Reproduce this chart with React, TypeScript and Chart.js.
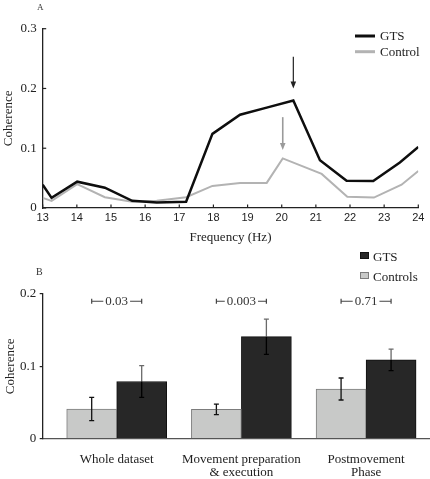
import React, { useEffect, useRef } from "react";
import { Chart, registerables } from "chart.js";

Chart.register(...registerables);

// ---------- Panel A data ----------
const gtsFreq = [13, 13.26, 14.01, 14.82, 15.62, 16.34, 17.2, 17.97, 18.78, 19.56, 20.34, 21.12, 21.9, 22.68, 23.46, 24];
const gtsCoherence = [0.039, 0.017, 0.044, 0.034, 0.012, 0.009, 0.0105, 0.124, 0.156, 0.168, 0.18, 0.08, 0.0457, 0.045, 0.076, 0.102];
const ctrlFreq = [13, 13.26, 14.01, 14.82, 15.62, 16.34, 17.2, 17.97, 18.78, 19.56, 20.03, 21.17, 21.92, 22.7, 23.51, 24];
const ctrlCoherence = [0.017, 0.012, 0.04, 0.018, 0.0105, 0.012, 0.018, 0.037, 0.042, 0.042, 0.083, 0.057, 0.019, 0.0175, 0.039, 0.062];
const freqTicks = [13, 14, 15, 16, 17, 18, 19, 20, 21, 22, 23, 24];
const cohTicksA = [0, 0.1, 0.2, 0.3];
const arrowFreq = [20.34, 20.03];
const arrowFrom = [0.253, 0.152];
const arrowTo = [0.2, 0.097];

// ---------- Panel B data ----------
const phases = [["Whole dataset"], ["Movement preparation", "& execution"], ["Postmovement", "Phase"]];
const phasePos = [1, 2, 3];
const ctrlMean = [0.041, 0.0405, 0.0687];
const ctrlErr = [0.016, 0.0072, 0.0152];
const gtsMean = [0.079, 0.141, 0.109];
const gtsErr = [0.022, 0.0244, 0.0148];
const pValues = ["0.03", "0.003", "0.71"];
const pBracketLevel = 0.19;
const cohTicksB = [0, 0.1, 0.2];

// ---------- styles ----------
const W = 430;
const H = 479;
const SERIF = "'Liberation Serif', 'Times New Roman', serif";
const SANS = "'Liberation Sans', Arial, sans-serif";
const AXIS = "#222";
const GTS_LINE = "#0e0e0e";
const CTRL_LINE = "#b3b3b3";
const ARROW_COLORS = ["#222", "#9a9a9a"];

const panelAPlugin = {
  id: "panelA",
  afterDraw(chart: any) {
    const { ctx } = chart;
    const x = chart.scales.x;
    const y = chart.scales.y;
    ctx.save();
    // inward tick marks
    ctx.strokeStyle = AXIS;
    ctx.lineWidth = 1.2;
    freqTicks.forEach((f) => {
      const px = x.getPixelForValue(f);
      ctx.beginPath();
      ctx.moveTo(px, y.bottom);
      ctx.lineTo(px, y.bottom - 3.5);
      ctx.stroke();
    });
    cohTicksA.forEach((v) => {
      const py = y.getPixelForValue(v);
      ctx.beginPath();
      ctx.moveTo(x.left, py);
      ctx.lineTo(x.left + 3.5, py);
      ctx.stroke();
    });
    // arrows
    arrowFreq.forEach((f, i) => {
      const px = x.getPixelForValue(f);
      const y0 = y.getPixelForValue(arrowFrom[i]);
      const y1 = y.getPixelForValue(arrowTo[i]);
      ctx.strokeStyle = ARROW_COLORS[i];
      ctx.fillStyle = ARROW_COLORS[i];
      ctx.lineWidth = i === 0 ? 1.2 : 1.6;
      ctx.beginPath();
      ctx.moveTo(px, y0);
      ctx.lineTo(px, y1 - 6);
      ctx.stroke();
      ctx.beginPath();
      ctx.moveTo(px - 2.8, y1 - 7);
      ctx.lineTo(px + 2.8, y1 - 7);
      ctx.lineTo(px, y1);
      ctx.closePath();
      ctx.fill();
    });
    // legend
    chart.data.datasets.forEach((ds: any, i: number) => {
      const ly = 36 + i * 15.7;
      ctx.strokeStyle = ds.borderColor;
      ctx.lineWidth = 3;
      ctx.beginPath();
      ctx.moveTo(355, ly);
      ctx.lineTo(375, ly);
      ctx.stroke();
      ctx.fillStyle = "#222";
      ctx.font = `13px ${SERIF}`;
      ctx.textBaseline = "middle";
      ctx.textAlign = "left";
      ctx.fillText(ds.label, 380, ly + 0.5);
    });
    ctx.font = `9px ${SERIF}`;
    ctx.fillStyle = "#333";
    ctx.textBaseline = "middle";
    ctx.fillText("A", 37, 8);
    ctx.restore();
  },
};

const panelBPlugin = {
  id: "panelB",
  afterDatasetsDraw(chart: any) {
    const { ctx } = chart;
    const y = chart.scales.y;
    const metaC = chart.getDatasetMeta(0);
    const metaG = chart.getDatasetMeta(1);
    ctx.save();
    ctx.lineWidth = 1.3;
    const drawErr = (cx: number, m: number, e: number, upColor: string, downColor: string) => {
      const yt = y.getPixelForValue(m + e);
      const ym = y.getPixelForValue(m);
      const yb = y.getPixelForValue(m - e);
      ctx.strokeStyle = upColor;
      ctx.beginPath();
      ctx.moveTo(cx, ym);
      ctx.lineTo(cx, yt);
      ctx.moveTo(cx - 2.5, yt);
      ctx.lineTo(cx + 2.5, yt);
      ctx.stroke();
      ctx.strokeStyle = downColor;
      ctx.beginPath();
      ctx.moveTo(cx, ym);
      ctx.lineTo(cx, yb);
      ctx.moveTo(cx - 2.5, yb);
      ctx.lineTo(cx + 2.5, yb);
      ctx.stroke();
    };
    metaC.data.forEach((bar: any, i: number) => drawErr(bar.x, ctrlMean[i], ctrlErr[i], "#111", "#111"));
    metaG.data.forEach((bar: any, i: number) => drawErr(bar.x, gtsMean[i], gtsErr[i], "#6a6a6a", "#000"));

    // significance brackets
    const by = y.getPixelForValue(pBracketLevel);
    ctx.font = `13px ${SERIF}`;
    ctx.textBaseline = "middle";
    ctx.textAlign = "center";
    pValues.forEach((p, i) => {
      const x0 = metaC.data[i].x;
      const x1 = metaG.data[i].x;
      const mid = (x0 + x1) / 2;
      const tw = ctx.measureText(p).width;
      ctx.strokeStyle = "#444";
      ctx.lineWidth = 1.2;
      ctx.beginPath();
      ctx.moveTo(x0, by);
      ctx.lineTo(mid - tw / 2 - 2, by);
      ctx.moveTo(mid + tw / 2 + 2, by);
      ctx.lineTo(x1, by);
      ctx.moveTo(x0, by - 2.5);
      ctx.lineTo(x0, by + 2.5);
      ctx.moveTo(x1, by - 2.5);
      ctx.lineTo(x1, by + 2.5);
      ctx.stroke();
      ctx.fillStyle = "#333";
      ctx.fillText(p, mid, by);
    });

    // legend (GTS first)
    const order = [1, 0];
    order.forEach((di, k) => {
      const ds = chart.data.datasets[di];
      const top = 252 + k * 20;
      ctx.fillStyle = ds.backgroundColor;
      ctx.fillRect(360, top, 9, 7);
      ctx.strokeStyle = ds.borderColor;
      ctx.lineWidth = 1;
      ctx.strokeRect(360.5, top + 0.5, 8, 6);
      ctx.fillStyle = "#222";
      ctx.textAlign = "left";
      ctx.font = `13px ${SERIF}`;
      ctx.fillText(ds.label, 373, top + 5.5);
    });
    ctx.font = `10px ${SERIF}`;
    ctx.fillStyle = "#333";
    ctx.textAlign = "left";
    ctx.fillText("B", 36, 272);
    ctx.restore();
  },
};

function configA(): any {
  return {
    type: "line",
    data: {
      datasets: [
        {
          label: "GTS",
          data: gtsFreq.map((f, i) => ({ x: f, y: gtsCoherence[i] })),
          borderColor: GTS_LINE,
          borderWidth: 2.5,
          pointRadius: 0,
          tension: 0,
        },
        {
          label: "Control",
          data: ctrlFreq.map((f, i) => ({ x: f, y: ctrlCoherence[i] })),
          borderColor: CTRL_LINE,
          borderWidth: 2,
          pointRadius: 0,
          tension: 0,
        },
      ],
    },
    options: {
      responsive: false,
      animation: false,
      events: [],
      layout: { padding: { left: 0, top: 28.7, right: 11.7, bottom: 233.6 } },
      plugins: { legend: { display: false }, tooltip: { enabled: false } },
      scales: {
        x: {
          type: "linear",
          min: 13,
          max: 24,
          afterBuildTicks: (s: any) => {
            s.ticks = freqTicks.map((v) => ({ value: v }));
          },
          afterFit: (s: any) => {
            s.height = 37.4;
          },
          grid: { display: false, drawTicks: false },
          border: { display: true, color: AXIS, width: 1.3 },
          ticks: {
            padding: 3,
            color: "#222",
            font: { family: SANS, size: 11 },
            maxRotation: 0,
            autoSkip: false,
            callback: (v: any) => String(v),
          },
          title: {
            display: true,
            text: "Frequency (Hz)",
            color: "#222",
            font: { family: SERIF, size: 13 },
            padding: { top: 0, bottom: 0 },
          },
        },
        y: {
          min: 0,
          max: 0.3,
          afterBuildTicks: (s: any) => {
            s.ticks = cohTicksA.map((v) => ({ value: v }));
          },
          afterFit: (s: any) => {
            s.width = 42.7;
          },
          grid: { display: false, drawTicks: false },
          border: { display: true, color: AXIS, width: 1.3 },
          ticks: {
            padding: 6,
            color: "#222",
            font: { family: SERIF, size: 13 },
            callback: (v: any) => (v === 0 ? "0" : Number(v).toFixed(1)),
          },
          title: {
            display: true,
            text: "Coherence",
            color: "#222",
            font: { family: SERIF, size: 13 },
            padding: { top: 1, bottom: 0 },
          },
        },
      },
    },
    plugins: [panelAPlugin],
  };
}

function configB(): any {
  return {
    type: "bar",
    data: {
      datasets: [
        {
          label: "Controls",
          data: phasePos.map((p, i) => ({ x: p, y: ctrlMean[i] })),
          backgroundColor: "#c8c9c8",
          borderColor: "#7c7c7c",
          borderWidth: 1,
          barThickness: 50,
        },
        {
          label: "GTS",
          data: phasePos.map((p, i) => ({ x: p, y: gtsMean[i] })),
          backgroundColor: "#272727",
          borderColor: "#111",
          borderWidth: 1,
          barThickness: 50,
        },
      ],
    },
    options: {
      responsive: false,
      animation: false,
      events: [],
      layout: { padding: { left: 0, top: 294, right: 0, bottom: 0 } },
      plugins: { legend: { display: false }, tooltip: { enabled: false } },
      scales: {
        x: {
          type: "linear",
          min: 0.4066,
          max: 3.5126,
          offset: false,
          afterBuildTicks: (s: any) => {
            s.ticks = phasePos.map((v) => ({ value: v }));
          },
          afterFit: (s: any) => {
            s.height = 40.3;
          },
          grid: { display: false, drawTicks: false, offset: false },
          border: { display: true, color: "#555", width: 1.3 },
          ticks: {
            padding: 14,
            color: "#222",
            font: { family: SERIF, size: 13, lineHeight: 1.0 },
            maxRotation: 0,
            autoSkip: false,
            callback: (v: any) => phases[Math.round(v) - 1],
          },
        },
        y: {
          min: 0,
          max: 0.2,
          afterBuildTicks: (s: any) => {
            s.ticks = cohTicksB.map((v) => ({ value: v }));
          },
          afterFit: (s: any) => {
            s.width = 42.7;
          },
          grid: { display: true, drawOnChartArea: false, drawTicks: true, tickLength: 3, color: AXIS, lineWidth: 1.2 },
          border: { display: true, color: AXIS, width: 1.3 },
          ticks: {
            padding: 3.5,
            color: "#222",
            font: { family: SERIF, size: 13 },
            callback: (v: any) => (v === 0 ? "0" : Number(v).toFixed(1)),
          },
          title: {
            display: true,
            text: "Coherence",
            color: "#222",
            font: { family: SERIF, size: 13 },
            padding: { top: 2.8, bottom: 0 },
          },
        },
      },
    },
    plugins: [panelBPlugin],
  };
}

export default function App() {
  const refA = useRef<HTMLCanvasElement>(null);
  const refB = useRef<HTMLCanvasElement>(null);
  useEffect(() => {
    document.body.style.margin = "0";
    const a = new Chart(refA.current as HTMLCanvasElement, configA());
    const b = new Chart(refB.current as HTMLCanvasElement, configB());
    return () => {
      a.destroy();
      b.destroy();
    };
  }, []);
  return (
    <div style={{ position: "relative", width: W, height: H, background: "#fff", overflow: "hidden" }}>
      <canvas ref={refA} width={W} height={H} style={{ position: "absolute", left: 0, top: 0 }} />
      <canvas ref={refB} width={W} height={H} style={{ position: "absolute", left: 0, top: 0 }} />
    </div>
  );
}
